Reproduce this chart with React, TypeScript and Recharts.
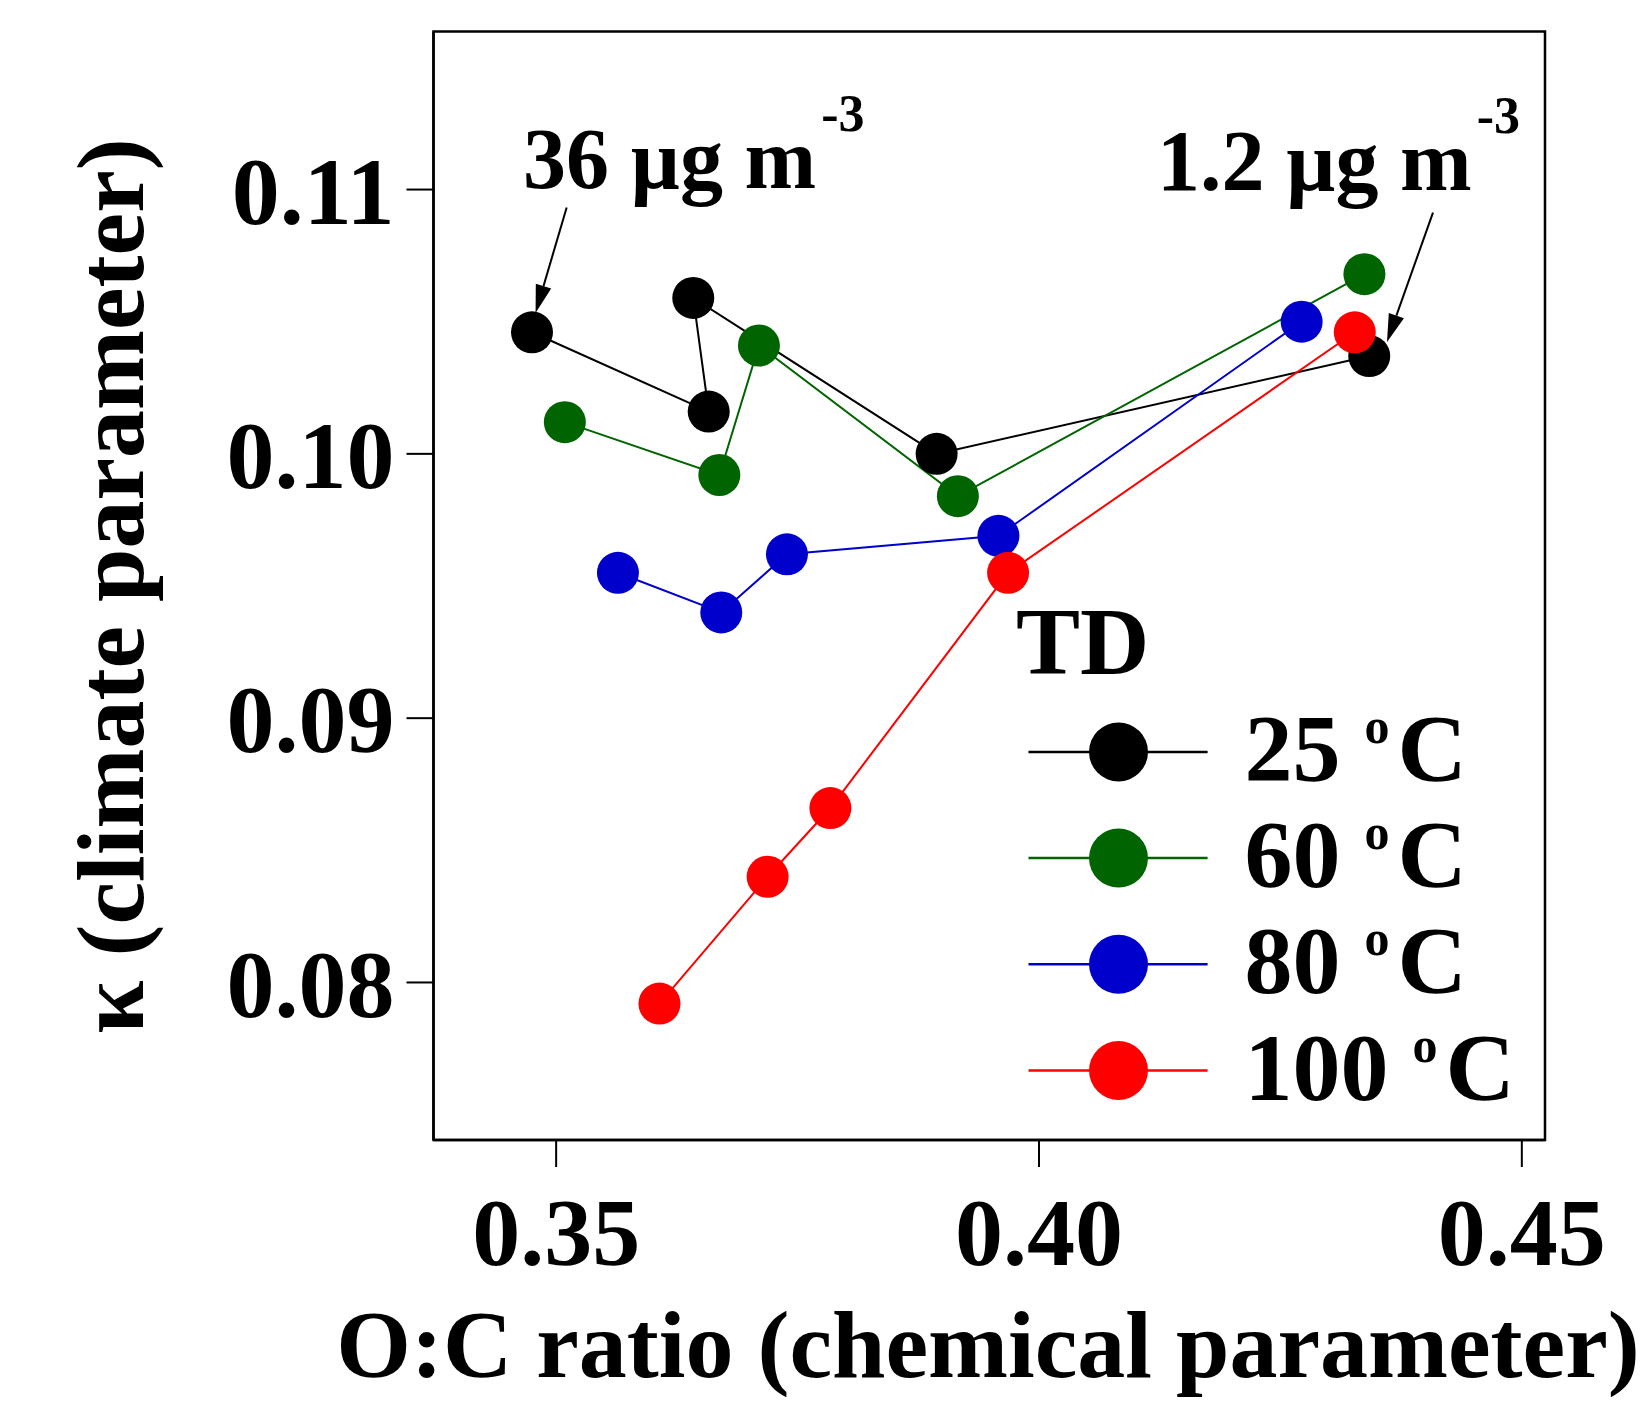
import React from 'react';
import { LineChart, Line, XAxis, YAxis, ReferenceArea, ReferenceDot, ReferenceLine } from 'recharts';

const FONT = '"Liberation Serif", "Times New Roman", serif';

// O:C ratio (x) and kappa (y) per thermodenuder temperature
const ocRatio25 = [0.3475, 0.3658, 0.3642, 0.3894, 0.4342];
const kappa25 = [0.1046, 0.1016, 0.1059, 0.1000, 0.1037];
const ocRatio60 = [0.3509, 0.3669, 0.3710, 0.3916, 0.4337];
const kappa60 = [0.1012, 0.0992, 0.1041, 0.0984, 0.1068];
const ocRatio80 = [0.3564, 0.3671, 0.3739, 0.3958, 0.4272];
const kappa80 = [0.0955, 0.0940, 0.0962, 0.0969, 0.1050];
const ocRatio100 = [0.3607, 0.3719, 0.3784, 0.3968, 0.4327];
const kappa100 = [0.0792, 0.0840, 0.0866, 0.0955, 0.1046];

const seriesNames = ['25', '60', '80', '100'];
const seriesColors = ['#000000', '#006400', '#0000CD', '#FF0000'];

const xTicks = [0.35, 0.4, 0.45];
const yTicks = [0.08, 0.09, 0.1, 0.11];
const xDomain = [0.3373, 0.4524];
const yDomain = [0.07404, 0.11598];

const annotationLabels = ['36 µg m', '1.2 µg m'];
const annotationX = [0.34657, 0.41222];
const annotationY = [0.11007, 0.10998];
const arrowFromX = [0.35109, 0.4408];
const arrowFromY = [0.10932, 0.10913];
const arrowToX = [0.34787, 0.43604];
const arrowToY = [0.10533, 0.10423];

const toPoints = (xs: number[], ys: number[]) => xs.map((x, i) => ({ x, y: ys[i] }));
const seriesData = [
  toPoints(ocRatio25, kappa25),
  toPoints(ocRatio60, kappa60),
  toPoints(ocRatio80, kappa80),
  toPoints(ocRatio100, kappa100),
];

const W = 1639;
const H = 1395;

const ArrowShape = (p: any) => {
  const { x1, y1, x2, y2 } = p;
  const dx = x2 - x1;
  const dy = y2 - y1;
  const len = Math.hypot(dx, dy) || 1;
  const ux = dx / len;
  const uy = dy / len;
  const hl = 28;
  const hw = 8;
  const bx = x2 - ux * hl;
  const by = y2 - uy * hl;
  const pts = `${x2},${y2} ${bx - uy * hw},${by + ux * hw} ${bx + uy * hw},${by - ux * hw}`;
  return (
    <g>
      <line x1={x1} y1={y1} x2={bx} y2={by} stroke="#000" strokeWidth={2} />
      <polygon points={pts} fill="#000" />
    </g>
  );
};

const makeAnnotation = (label: string) => (p: any) => (
  <text x={p.cx} y={p.cy} fontFamily={FONT} fontWeight="bold" fontSize={86} fill="#000">
    {label}
    <tspan fontSize={52} dx={5} dy={-57}>-3</tspan>
  </text>
);

const YTitle = (props: any) => (
  <text
    x={135}
    y={578}
    transform="rotate(-90, 135, 578)"
    textAnchor="middle"
    fontFamily={FONT}
    fontWeight="bold"
    fontSize={96}
    fill="#000"
  >
    κ (climate parameter)
  </text>
);

const XTitle = (props: any) => (
  <text x={980} y={1369} textAnchor="middle" fontFamily={FONT} fontWeight="bold" fontSize={96} fill="#000">
    O:C ratio (chemical parameter)
  </text>
);

const LegendOverlay = () => (
  <svg
    width={600}
    height={560}
    style={{ position: 'absolute', left: 1000, top: 560, overflow: 'visible' }}
  >
    <text x={8} y={106.4} fontFamily={FONT} fontWeight="bold" fontSize={96} fill="#000">
      TD
    </text>
    {seriesNames.map((name, i) => {
      const cy = 183.9 + i * 106.2;
      return (
        <g key={name}>
          <line x1={20.5} x2={199.6} y1={cy} y2={cy} stroke={seriesColors[i]} strokeWidth={2.5} />
          <circle cx={110.5} cy={cy} r={29.5} fill={seriesColors[i]} />
          <text x={236.6} y={cy + 29} fontFamily={FONT} fontWeight="bold" fontSize={96} fill="#000">
            {name + ' '}
            <tspan fontSize={50} dy={-38}>o</tspan>
            <tspan dy={38} dx={8}>C</tspan>
          </text>
        </g>
      );
    })}
  </svg>
);

export default function App() {
  const tickStyle = { fontFamily: FONT, fontSize: 96, fontWeight: 'bold', fill: '#000' };
  return (
    <div style={{ position: 'relative', width: W, height: H }}>
      <LineChart width={W} height={H} margin={{ top: 23.5, right: 102, left: 0, bottom: 0 }}>
        <XAxis
          type="number"
          dataKey="x"
          domain={xDomain}
          ticks={xTicks}
          allowDataOverflow
          tickFormatter={(v: number) => v.toFixed(2)}
          height={263}
          tickSize={27}
          tickMargin={30}
          axisLine={{ stroke: '#000', strokeWidth: 2.5 }}
          tickLine={{ stroke: '#000', strokeWidth: 2 }}
          tick={tickStyle}
          label={{ content: XTitle }}
        />
        <YAxis
          type="number"
          dataKey="y"
          domain={yDomain}
          ticks={yTicks}
          allowDataOverflow
          tickFormatter={(v: number) => v.toFixed(2)}
          width={425.5}
          tickSize={27}
          tickMargin={12}
          axisLine={{ stroke: '#000', strokeWidth: 2.5 }}
          tickLine={{ stroke: '#000', strokeWidth: 2 }}
          tick={tickStyle}
          label={{ content: YTitle }}
        />
        <ReferenceArea
          x1={xDomain[0]}
          x2={xDomain[1]}
          y1={yDomain[0]}
          y2={yDomain[1]}
          fill="none"
          fillOpacity={0}
          stroke="#000"
          strokeWidth={2.5}
          ifOverflow="visible"
        />
        {seriesData.map((d, i) => (
          <Line
            key={seriesNames[i]}
            data={d}
            dataKey="y"
            type="linear"
            stroke={seriesColors[i]}
            strokeWidth={2}
            dot={{ r: 21, fill: seriesColors[i], stroke: seriesColors[i], strokeWidth: 0 }}
            activeDot={false}
            isAnimationActive={false}
          />
        ))}
        {annotationLabels.map((label, i) => (
          <ReferenceDot
            key={label}
            x={annotationX[i]}
            y={annotationY[i]}
            r={1}
            shape={makeAnnotation(label)}
            ifOverflow="visible"
          />
        ))}
        {arrowFromX.map((_, i) => (
          <ReferenceLine
            key={'arrow' + i}
            segment={[
              { x: arrowFromX[i], y: arrowFromY[i] },
              { x: arrowToX[i], y: arrowToY[i] },
            ]}
            shape={ArrowShape}
            ifOverflow="visible"
          />
        ))}
      </LineChart>
      <LegendOverlay />
    </div>
  );
}
